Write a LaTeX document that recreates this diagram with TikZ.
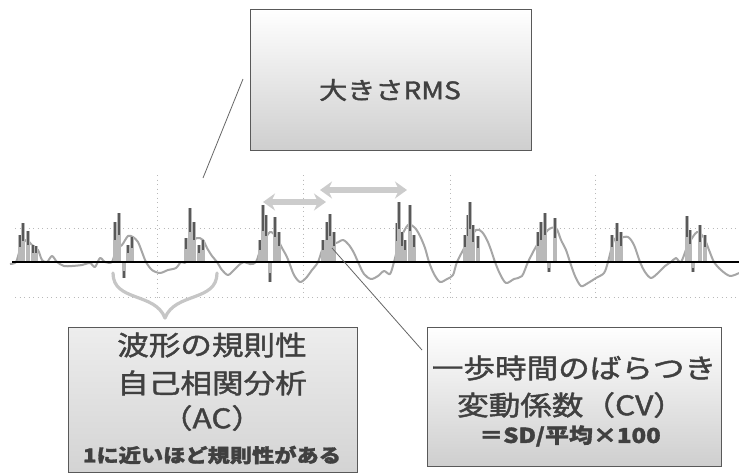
\documentclass[tikz,border=0pt]{standalone}
\usepackage{fontspec}
\newfontfamily\jp{Noto Sans CJK JP}[FakeStretch=1.17,FakeBold=1.6]
\usetikzlibrary{arrows.meta}
\begin{document}
\begin{tikzpicture}[x=1pt,y=-1pt,
  box/.style={draw=black!65, line width=0.9pt, top color=white, bottom color=gray!38, inner sep=0pt},
  txt/.style={text=black!75, inner sep=0pt, font=\jp},
  gridln/.style={gray!55, line width=0.7pt, dash pattern=on 1pt off 3.5pt},
  bar/.style={gray!55, line width=4.2pt},
  barcap/.style={black!65, line width=2pt},
  wave/.style={gray!70, line width=2pt, line join=round},
  base/.style={black, line width=2.6pt},
  callout/.style={black!60, line width=0.8pt},
  dblarrow/.style={gray!40, line width=5.5pt, {Stealth[length=12pt,width=17pt]}-{Stealth[length=12pt,width=17pt]}},
  bracestyle/.style={gray!45, line width=3.2pt, line cap=round}]
\useasboundingbox (0,0) rectangle (739,474);
\fill[white] (0,0) rectangle (739,474);

% grid
\draw[gridln] (15,228) -- (739,228);
\draw[gridln] (15,297) -- (739,297);
\foreach \gx in {157,303,450,595} \draw[gridln] (\gx,175) -- (\gx,297);

% waveform
\draw[wave] plot[smooth, tension=0.5] coordinates {
(10,264)(16,262)(20,250)(26,240)(32,245)(38,250)(42,260)(47,262)(52,256)(57,262)(64,266)(72,266)(82,265)(90,263)(95,267)(100,258)(105,262)(112,262)
(116,250)(122,245)(128,236)(133,237)(138,242)(142,252)(146,262)(152,270)(160,273)(168,270)(176,268)(181,262)(186,262)
(190,245)(197,238)(203,240)(207,248)(212,256)(217,262)(222,270)(228,275)(234,270)(239,265)(244,262)(250,264)(256,262)
(262,245)(270,232)(277,238)(282,248)(286,255)(289,262)(294,275)(300,282)(306,278)(312,270)(318,262)
(324,245)(330,240)(336,243)(343,240)(349,245)(354,253)(358,262)(364,274)(371,279)(378,276)(384,271)(390,274)(394,262)
(400,240)(408,225)(415,228)(420,236)(425,248)(429,262)(434,274)(440,282)(447,279)(453,275)(457,262)
(466,245)(476,230)(482,232)(487,240)(491,250)(495,262)(500,274)(506,283)(514,279)(522,276)(528,262)
(537,245)(548,230)(556,228)(561,240)(566,250)(570,262)(575,276)(581,286)(588,283)(596,278)(604,273)(608,262)
(614,240)(620,238)(628,237)(634,245)(640,262)(645,272)(651,278)(658,273)(665,266)(671,262)(676,258)(681,262)
(688,245)(697,232)(704,238)(709,250)(714,262)(721,270)(730,276)(739,273)};

% bars
\foreach \bx/\by in {20/235,23/223,28/231,33/245,36/246,
  115/222,119/213,124/278,128/245,132/237,
  186/238,190/208,194/222,199/245,203/240,
  260/240,263/205,266/215,270/282,275/217,279/232,
  323/240,327/222,330/214,334/232,
  397/223,399/202,402/232,405/240,410/205,414/235,
  465/235,468/215,470/202,473/225,478/236,
  538/232,541/222,545/213,549/272,555/218,
  612/235,617/223,621/232,
  687/216,690/230,693/272,700/225,705/235}{
  \draw[bar] (\bx,262) -- (\bx,\by);
  \pgfmathsetmacro{\ye}{\by+0.45*(262-\by)}
  \draw[barcap] (\bx,\by) -- (\bx,\ye);
}

% baseline
\draw[base] (12,262) -- (739,262);

% double arrows
\coordinate (a1l) at (263,202);
\coordinate (a1r) at (326,202);
\coordinate (a2l) at (320,190);
\coordinate (a2r) at (407,190);
\draw[dblarrow] (a1l) -- (a1r);
\draw[dblarrow] (a2l) -- (a2r);

% brace
\coordinate (brl) at (113,273);
\coordinate (brr) at (217,273);
\coordinate (brt) at (165,318);
\draw[bracestyle] (brl) .. controls (113,302) and (155,292) .. (brt);
\draw[bracestyle] (brr) .. controls (217,302) and (175,292) .. (brt);

% boxes
\node[box, minimum width=281pt, minimum height=141pt] (rms) at (390.5,79.5) {};
\node[txt, font=\jp\fontsize{24}{28}\selectfont] (rmst) at (390,90) {大きさRMS};

\node[box, top color=gray!14, bottom color=gray!34, minimum width=289pt, minimum height=145pt] (ac) at (212.5,399.5) {};
\node[txt, font=\jp\fontsize{27}{30}\selectfont] (ac1) at (212,345) {波形の規則性};
\node[txt, font=\jp\fontsize{27}{30}\selectfont] (ac2) at (212,383) {自己相関分析};
\node[txt, font=\jp\fontsize{27}{30}\selectfont] (ac3) at (212,418) {（AC）};
\node[txt, font=\jp\bfseries\fontsize{19}{22}\selectfont] (ac4) at (212,455) {1に近いほど規則性がある};

\node[box, minimum width=294pt, minimum height=139pt] (cv) at (574,396.5) {};
\node[txt, font=\jp\fontsize{27}{30}\selectfont] (cv1) at (574,368) {一歩時間のばらつき};
\node[txt, font=\jp\fontsize{27}{30}\selectfont] (cv2) at (571,405) {変動係数（CV）};
\node[txt, font=\jp\bfseries\fontsize{20.5}{24}\selectfont] (cv3) at (570,436) {＝SD/平均×100};

% callout lines
\coordinate (c1a) at (203,178);
\coordinate (c1b) at (243,79);
\draw[callout] (c1a) -- (c1b);
\coordinate (c2a) at (332,248);
\coordinate (c2b) at (422,350);
\draw[callout] (c2a) -- (c2b);
\end{tikzpicture}
\end{document}
